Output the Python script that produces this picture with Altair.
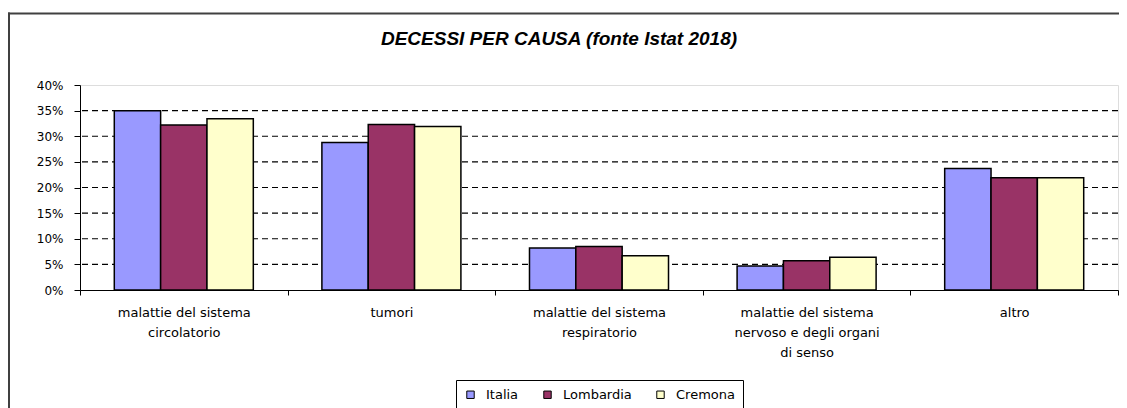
import json
import altair as alt
import pandas as pd

categories = [
    "malattie del sistema circolatorio",
    "tumori",
    "malattie del sistema respiratorio",
    "malattie del sistema nervoso e degli organi di senso",
    "altro",
]
category_lines = [
    ["malattie del sistema", "circolatorio"],
    ["tumori"],
    ["malattie del sistema", "respiratorio"],
    ["malattie del sistema", "nervoso e degli organi", "di senso"],
    ["altro"],
]
regions = ["Italia", "Lombardia", "Cremona"]
colors = ["#9999FF", "#993366", "#FFFFCC"]

italia = [0.350, 0.288, 0.082, 0.047, 0.237]
lombardia = [0.322, 0.323, 0.085, 0.057, 0.219]
cremona = [0.334, 0.319, 0.067, 0.064, 0.219]

y_ticks = [0, 0.05, 0.10, 0.15, 0.20, 0.25, 0.30, 0.35, 0.40]
grid_values = [0.05, 0.10, 0.15, 0.20, 0.25, 0.30, 0.35]

rows = []
for reg, vals in zip(regions, [italia, lombardia, cremona]):
    for cat, v in zip(categories, vals):
        rows.append({"causa": cat, "area": reg, "valore": v})
df = pd.DataFrame(rows)
grid_df = pd.DataFrame({"valore": grid_values})

label_expr = " : ".join(
    f"datum.value === {json.dumps(c)} ? {json.dumps(l)}" for c, l in zip(categories, category_lines)
) + " : datum.value"

W = 1038
H = 205
FONT = "DejaVu Sans"

yscale = alt.Scale(domain=[0, 0.4], nice=False)
y_axis = alt.Axis(
    title=None,
    values=y_ticks,
    format=".0%",
    grid=False,
    tickSize=6,
    tickColor="black",
    domainColor="black",
    labelColor="black",
    labelFont=FONT,
    labelFontSize=12,
    labelPadding=11,
)

grid = alt.Chart(grid_df).mark_rule(color="black", strokeWidth=1.2, strokeDash=[6, 4]).encode(
    y=alt.Y("valore:Q", scale=yscale, axis=y_axis)
)

bars = alt.Chart(df).mark_bar(stroke="black", strokeWidth=1.5).encode(
    x=alt.X(
        "causa:N",
        sort=categories,
        scale=alt.Scale(paddingInner=0, paddingOuter=0),
        axis=alt.Axis(
            title=None,
            labelAngle=0,
            labelExpr=label_expr,
            tickBand="extent",
            tickSize=5,
            tickColor="black",
            domainColor="black",
            labelColor="black",
            labelFont=FONT,
            labelFontSize=13,
            labelLineHeight=20,
            labelPadding=11,
            labelLimit=300,
            grid=False,
        ),
    ),
    xOffset=alt.XOffset("area:N", sort=regions, scale=alt.Scale(paddingInner=0, paddingOuter=0.74)),
    y=alt.Y("valore:Q", scale=yscale, axis=y_axis),
    color=alt.Color(
        "area:N",
        sort=regions,
        scale=alt.Scale(domain=regions, range=colors),
        legend=alt.Legend(
            title=None,
            orient="none",
            legendX=376,
            legendY=295,
            direction="horizontal",
            padding=8,
            strokeColor="black",
            fillColor="white",
            cornerRadius=0,
            symbolType="square",
            symbolSize=55,
            symbolStrokeColor="black",
            symbolStrokeWidth=1,
            labelFont=FONT,
            labelFontSize=13,
            labelColor="black",
            labelOffset=9,
            columnPadding=22,
        ),
    ),
)

border_left = alt.Chart(alt.Data(values=[{"k": 1}])).mark_rule(color="#404040", strokeWidth=2).encode(
    x=alt.value(-71), y=alt.value(-72.5), y2=alt.value(400)
)
border_top = alt.Chart(alt.Data(values=[{"k": 1}])).mark_rule(color="#404040", strokeWidth=2).encode(
    y=alt.value(-71.5), x=alt.value(-72), x2=alt.value(W + 10)
)

chart = alt.layer(grid, bars, border_left, border_top).properties(
    width=W,
    height=H,
    autosize=alt.AutoSizeParams(type="none"),
    padding={"left": 72, "top": 77, "right": 1, "bottom": 118},
    title=alt.Title(
        "DECESSI PER CAUSA (fonte Istat 2018)",
        font="Liberation Sans",
        fontSize=19,
        fontStyle="italic",
        fontWeight="bold",
        color="black",
        anchor="middle",
        baseline="alphabetic",
        dx=-40,
        offset=-52,
    ),
).configure_view(stroke=None).configure(background="white")

chart.save("out.html", embed_options={"renderer": "svg", "actions": False})
